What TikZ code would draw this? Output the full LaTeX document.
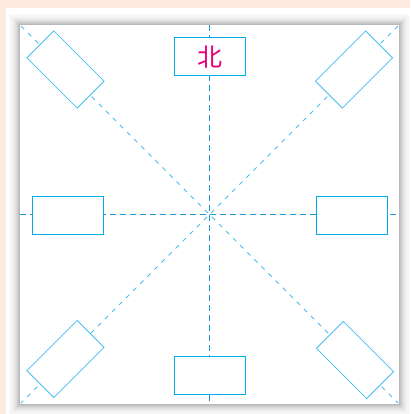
\documentclass[tikz,border=0pt]{standalone}
\usepackage{fontspec}
\newfontfamily\cjk{Noto Sans CJK SC}
\definecolor{peach}{RGB}{253,235,224}
\definecolor{boxblue}{RGB}{0,174,239}
\definecolor{axisblue}{RGB}{30,150,210}
\definecolor{diagblue}{RGB}{70,190,240}
\definecolor{mag}{RGB}{228,0,127}
\tikzset{
  plainbox/.style={draw=boxblue, line width=1pt, fill=white, minimum width=71pt, minimum height=38pt, inner sep=0pt},
  tiltbox/.style={draw=diagblue, line width=0.8pt, fill=white, minimum width=71pt, minimum height=38pt, inner sep=0pt},
  axisline/.style={draw=axisblue, line width=0.8pt, dash pattern=on 6pt off 4pt},
  diagline/.style={draw=diagblue, line width=0.9pt, dash pattern=on 4.5pt off 5.5pt},
}
\begin{document}
\begin{tikzpicture}[x=1pt,y=-1pt]
\useasboundingbox (0,0) rectangle (410,414);
\fill[peach] (0,0) rectangle (410,414);
\fill[white] (6,8) rectangle (410,414);
% shadow layers
\foreach \e/\c in {11/2,10/3,9/4,8/5,7/7,6/9,5/12,4/15,3/19,2/23,1/28}{
  \fill[black!\c] (20-\e,25-\e) rectangle (399+\e,404+\e);
}
\fill[white] (20,25) rectangle (399,404);
% axes
\coordinate (C) at (209.5,214.5);
\coordinate (T) at (209.5,25);
\coordinate (B) at (209.5,404);
\coordinate (L) at (20,214.5);
\coordinate (R) at (399,214.5);
\coordinate (TL) at (21,26);
\coordinate (TR) at (398,26);
\coordinate (BL) at (21,403);
\coordinate (BR) at (398,403);
\draw[diagline] (TL) -- (BR);
\draw[diagline] (TR) -- (BL);
\draw[axisline] (T) -- (B);
\draw[axisline] (L) -- (R);
% boxes
\node[plainbox] (north) at (209.5,57) {\cjk\fontsize{25pt}{25pt}\selectfont\color{mag}北};
\node[plainbox] (south) at (209.5,375.5) {};
\node[plainbox] (west) at (68,215) {};
\node[plainbox] (east) at (352,215) {};
\node[tiltbox, rotate=-45] (nw) at (65.5,69.5) {};
\node[tiltbox, rotate=45] (ne) at (354,69.5) {};
\node[tiltbox, rotate=45] (sw) at (65.5,359) {};
\node[tiltbox, rotate=-45] (se) at (355,360) {};
\end{tikzpicture}
\end{document}
